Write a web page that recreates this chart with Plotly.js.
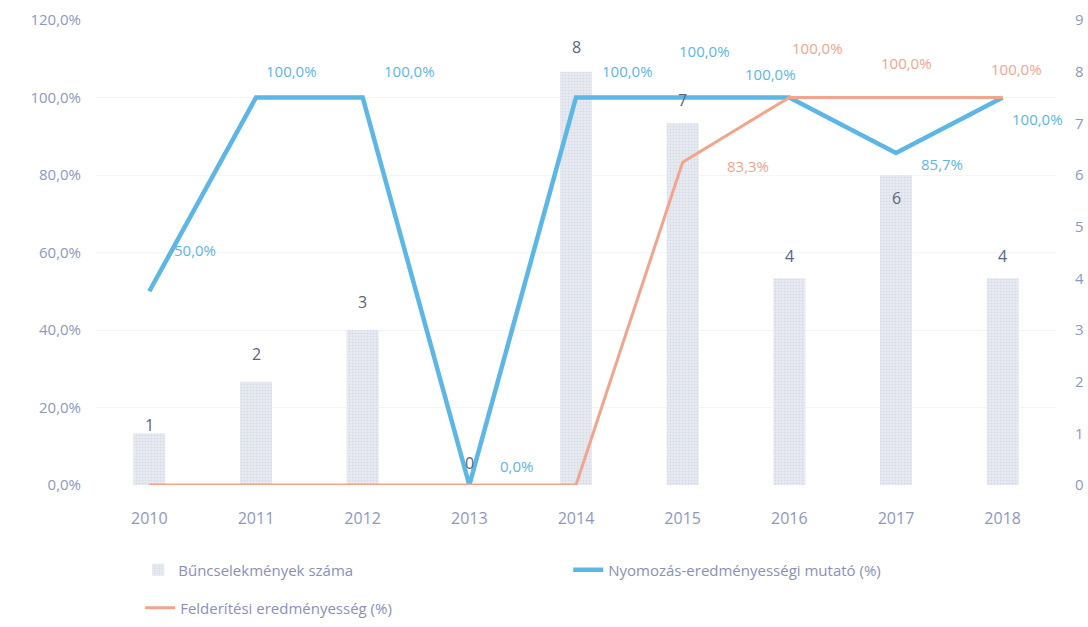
<!DOCTYPE html>
<html><head><meta charset="utf-8">
<script src="https://cdn.plot.ly/plotly-3.0.1.min.js"></script>
<style>html,body{margin:0;padding:0;background:#fff}#chart{width:1088px;height:627px}</style>
</head><body><div id="chart"></div>
<script>
const years = ['2010','2011','2012','2013','2014','2015','2016','2017','2018'];
const crimes = [1, 2, 3, 0, 8, 7, 4, 6, 4];
const investigation = [50.0, 100.0, 100.0, 0.0, 100.0, 100.0, 100.0, 85.7, 100.0];
const detection = [0, 0, 0, 0, 0, 83.3, 100.0, 100.0, 100.0];
const leftTicks = [0, 20, 40, 60, 80, 100, 120];
const rightTicks = [0,1,2,3,4,5,6,7,8,9];

// label offsets (px) relative to points
const invOff = [[46,-41],[35,-27],[47,-27],[47,-19],[51,-27],[22,-47],[-19,-24],[46,11],[35,21]];
const detOff = [null,null,null,null,null,[65,4],[28,-50],[10,-35],[14,-29]];
const barOff = [-8,-28,-28,-22,-25,-23,-22,23,-22];

const fmt = v => v.toFixed(1).replace('.', ',') + '%';
const tickCol = '#8f97bf';
const blue = '#5cb6e6';
const orange = '#f2a58c';

const traces = [
  {type:'bar', x:years, y:crimes, yaxis:'y', name:'Bűncselekmények száma', width:0.3,
   marker:{color:'#e6e9f0', pattern:{shape:'.', fgcolor:'#d5dae5', bgcolor:'#e9ecf2', size:3, solidity:0.3}},
   hoverinfo:'skip', legend:'legend'},
  {type:'scatter', mode:'lines', x:years, y:investigation, yaxis:'y2', name:'Nyomozás-eredményességi mutató (%)',
   line:{color:blue, width:4.5}, hoverinfo:'skip', legend:'legend'},
  {type:'scatter', mode:'lines', x:years, y:detection, yaxis:'y2', name:'Felderítési eredményesség (%)',
   line:{color:orange, width:3}, hoverinfo:'skip', legend:'legend2'}
];

const ann = [];
years.forEach((yr,i)=>{
  ann.push({x:i, y:investigation[i], xref:'x', yref:'y2', text:fmt(investigation[i]), showarrow:false,
    xshift:invOff[i][0], yshift:-invOff[i][1], font:{family:'Open Sans, sans-serif', size:15, color:blue}});
  if (detection[i] > 0) {
    ann.push({x:i, y:detection[i], xref:'x', yref:'y2', text:fmt(detection[i]), showarrow:false,
      xshift:detOff[i][0], yshift:-detOff[i][1], font:{family:'Open Sans, sans-serif', size:15, color:orange}});
  }
  ann.push({x:i, y:crimes[i], xref:'x', yref:'y', text:String(crimes[i]), showarrow:false,
    yshift:-barOff[i], font:{family:'Open Sans, sans-serif', size:16, color:'#5d6480'}});
});

const layout = {
  width:1088, height:627, paper_bgcolor:'#fff', plot_bgcolor:'#fff',
  margin:{l:96, r:32, t:20, b:142, autoexpand:false},
  separators:', ',
  showlegend:true,
  bargap:0.7,
  font:{family:'Open Sans, sans-serif', color:tickCol},
  xaxis:{type:'category', range:[-0.5, 8.5], autorange:false, showgrid:false, zeroline:false, showline:false, ticks:'',
    tickfont:{size:16, color:tickCol}, ticklabelstandoff:22},
  yaxis:{range:[0,9], tickvals:rightTicks, side:'right', showgrid:false, zeroline:false,
    showline:false, ticks:'', tickfont:{size:15, color:tickCol}, ticklabelstandoff:18},
  yaxis2:{range:[0,120], tickvals:leftTicks, ticktext:leftTicks.map(v=>v.toFixed(1).replace('.',',')+'%'),
    overlaying:'y', side:'left',
    showgrid:true, gridcolor:'#f4f5f8', gridwidth:1, zeroline:false, showline:false, ticks:'',
    tickfont:{size:15, color:tickCol}, ticklabelstandoff:14},
  legend:{orientation:'h', x:0.044, xanchor:'left', y:-0.183, yanchor:'middle', entrywidth:385,
    font:{size:15, color:'#8a90b8'}, bgcolor:'rgba(0,0,0,0)'},
  legend2:{orientation:'h', x:0.046, xanchor:'left', y:-0.2645, yanchor:'middle',
    font:{size:15, color:'#8a90b8'}, bgcolor:'rgba(0,0,0,0)'},
  annotations:ann
};
Plotly.newPlot('chart', traces, layout, {displayModeBar:false, staticPlot:true});
</script></body></html>
